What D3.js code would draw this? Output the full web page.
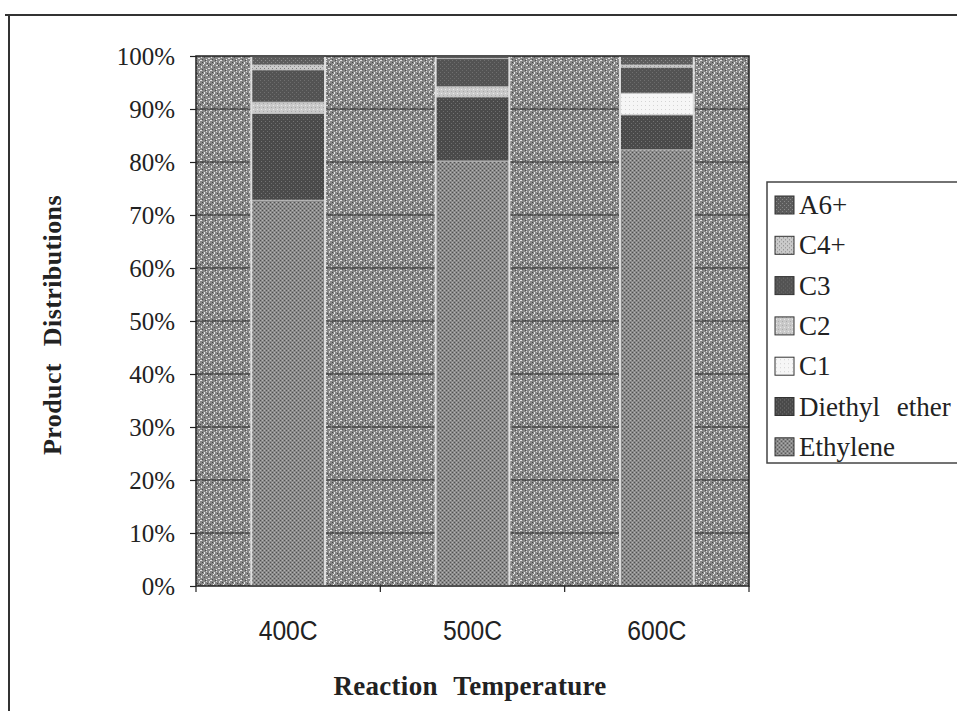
<!DOCTYPE html>
<html>
<head>
<meta charset="utf-8">
<script src="https://cdn.jsdelivr.net/npm/d3@7/dist/d3.min.js"></script>
<style>
  html, body { margin: 0; padding: 0; background: #ffffff; }
  svg { display: block; }
</style>
</head>
<body>
<svg id="chart" width="957" height="711"></svg>
<script>
// Product distribution (%) by reaction temperature, stacked bottom to top
const categories   = ["400C", "500C", "600C"];
const seriesNames  = ["Ethylene", "Diethyl ether", "C1", "C2", "C3", "C4+", "A6+"];
const ethylene     = [72.8, 80.2, 82.3];
const diethylEther = [16.4, 12.1, 6.6];
const c1           = [0.0, 0.0, 4.1];
const c2           = [2.1, 1.9, 0.0];
const c3           = [6.1, 5.3, 4.9];
const c4plus       = [0.9, 0.0, 0.4];
const a6plus       = [1.7, 0.5, 1.7];
const yTickValues  = [0, 0.1, 0.2, 0.3, 0.4, 0.5, 0.6, 0.7, 0.8, 0.9, 1.0];
const yTitle = "Product Distributions";
const xTitle = "Reaction Temperature";

const seriesValues = [ethylene, diethylEther, c1, c2, c3, c4plus, a6plus];
const table = categories.map((cat, i) => {
  const row = { category: cat };
  seriesNames.forEach((s, k) => { row[s] = seriesValues[k][i]; });
  return row;
});

const svg = d3.select("#chart");
const plot = { left: 196, right: 749, top: 56, bottom: 586 };

// Fill textures for the plot area and each series
const defs = svg.append("defs");
function tile(id, size, base, dots) {
  const p = defs.append("pattern").attr("id", id)
    .attr("patternUnits", "userSpaceOnUse").attr("width", size).attr("height", size);
  p.append("rect").attr("width", size).attr("height", size).attr("fill", base);
  dots.forEach(d => p.append("rect").attr("x", d[0]).attr("y", d[1])
    .attr("width", d[2]).attr("height", d[3]).attr("fill", d[4]));
}
tile("bgTex", 10, "#868686", [
  [0,0,2,1,"#e4e4e4"],[4,2,1,2,"#e8e8e8"],[6,5,2,1,"#dcdcdc"],[1,6,1,2,"#e0e0e0"],[3,4,1,1,"#f0f0f0"],
  [8,8,2,1,"#e2e2e2"],[9,1,1,2,"#d6d6d6"],[6,9,1,1,"#eeeeee"],
  [6,1,1,1,"#d8d8d8"],[2,2,1,1,"#444"],[5,0,1,1,"#4e4e4e"],[7,3,1,1,"#4a4a4a"],[0,4,1,1,"#464646"],
  [4,7,1,1,"#4e4e4e"],[8,5,1,1,"#444"],[2,9,1,1,"#4a4a4a"]
]);
tile("ethTex", 4, "#8a8a8a", [[0,0,1,1,"#505050"],[2,2,1,1,"#505050"],[2,0,1,1,"#b4b4b4"],[0,2,1,1,"#b4b4b4"]]);
tile("deeTex", 4, "#4a4a4a", [[1,1,1,1,"#747474"],[3,3,1,1,"#6c6c6c"]]);
tile("c1Tex", 4, "#f6f6f6", [[1,1,1,1,"#d4d4d4"]]);
tile("c2Tex", 4, "#c9c9c9", [[1,1,1,1,"#ececec"],[3,3,1,1,"#a8a8a8"]]);
tile("c3Tex", 4, "#535353", [[0,0,1,1,"#707070"],[2,2,1,1,"#6a6a6a"]]);
tile("c4Tex", 4, "#cacaca", [[0,0,1,1,"#808080"],[2,2,1,1,"#8a8a8a"]]);
tile("a6Tex", 4, "#5c5c5c", [[1,0,1,1,"#8a8a8a"],[3,2,1,1,"#858585"]]);
const fills = {
  "Ethylene": "url(#ethTex)", "Diethyl ether": "url(#deeTex)", "C1": "url(#c1Tex)",
  "C2": "url(#c2Tex)", "C3": "url(#c3Tex)", "C4+": "url(#c4Tex)", "A6+": "url(#a6Tex)"
};

// Scales
const x = d3.scaleBand().domain(categories).range([plot.left, plot.right])
  .paddingInner(0.6).paddingOuter(0.3);
const y = d3.scaleLinear().domain([0, 1]).range([plot.bottom, plot.top]);

// Outer frame
svg.append("path").attr("d", "M5,15H957M9,15V711")
  .attr("fill", "none").attr("stroke", "#333").attr("stroke-width", 2);

// Plot area background
svg.append("rect").attr("x", plot.left).attr("y", plot.top)
  .attr("width", plot.right - plot.left).attr("height", plot.bottom - plot.top)
  .attr("fill", "url(#bgTex)");

// Major gridlines
svg.append("g").selectAll("line").data(yTickValues.slice(1, -1)).join("line")
  .attr("x1", plot.left).attr("x2", plot.right)
  .attr("y1", d => y(d)).attr("y2", d => y(d))
  .attr("stroke", "#2a2a2a").attr("stroke-width", 1.2);

// Stacked 100% columns
const stacked = d3.stack().keys(seriesNames).offset(d3.stackOffsetExpand)(table);
const layers = svg.append("g").selectAll("g").data(stacked).join("g")
  .attr("fill", d => fills[d.key]);
layers.selectAll("rect").data(d => d.filter(p => p[1] - p[0] > 0)).join("rect")
  .attr("x", d => x(d.data.category))
  .attr("width", x.bandwidth())
  .attr("y", d => y(d[1]))
  .attr("height", d => y(d[0]) - y(d[1]))
  .attr("stroke", "#c4c4c4").attr("stroke-width", 0.8);

// Column outlines
svg.append("g").selectAll("rect").data(categories).join("rect")
  .attr("x", d => x(d)).attr("width", x.bandwidth())
  .attr("y", y(1)).attr("height", y(0) - y(1))
  .attr("fill", "none").attr("stroke", "#dedede").attr("stroke-width", 2);

// Plot border
svg.append("rect").attr("x", plot.left).attr("y", plot.top)
  .attr("width", plot.right - plot.left).attr("height", plot.bottom - plot.top)
  .attr("fill", "none").attr("stroke", "#222").attr("stroke-width", 1.5);

// Y axis
const yAxis = svg.append("g").attr("transform", `translate(${plot.left},0)`)
  .call(d3.axisLeft(y).tickValues(yTickValues).tickFormat(d3.format(".0%"))
    .tickSize(6).tickPadding(15));
yAxis.select(".domain").remove();
yAxis.selectAll(".tick line").attr("stroke", "#222").attr("stroke-width", 1.2);
yAxis.selectAll(".tick text")
  .attr("font-family", "'Liberation Serif', 'Times New Roman', serif")
  .attr("font-size", 25).attr("fill", "#222");

// X axis: tick marks at category boundaries, labels centred under columns
const boundaries = d3.range(categories.length + 1).map(i => plot.left + i * x.step());
svg.append("g").selectAll("line").data(boundaries).join("line")
  .attr("x1", d => d).attr("x2", d => d)
  .attr("y1", plot.bottom).attr("y2", plot.bottom + 6)
  .attr("stroke", "#222").attr("stroke-width", 1.2);
const xAxis = svg.append("g").attr("transform", `translate(0,${plot.bottom})`)
  .call(d3.axisBottom(x).tickSize(0).tickPadding(35));
xAxis.select(".domain").remove();
xAxis.selectAll(".tick text")
  .attr("font-family", "'Liberation Sans Narrow', 'Arial Narrow', 'Liberation Sans', sans-serif")
  .attr("font-size", 27).attr("fill", "#222")
  .attr("textLength", 59).attr("lengthAdjust", "spacingAndGlyphs");

// Axis titles
svg.append("text")
  .attr("transform", `translate(61,${(plot.top + plot.bottom) / 2 + 4}) rotate(-90)`)
  .attr("text-anchor", "middle")
  .attr("font-family", "'Liberation Serif', 'Times New Roman', serif")
  .attr("font-weight", "bold").attr("font-size", 26)
  .attr("letter-spacing", 0.4).attr("word-spacing", 10)
  .attr("fill", "#222").text(yTitle);
svg.append("text")
  .attr("x", 470).attr("y", 695).attr("text-anchor", "middle")
  .attr("font-family", "'Liberation Serif', 'Times New Roman', serif")
  .attr("font-weight", "bold").attr("font-size", 27)
  .attr("letter-spacing", 0.3).attr("word-spacing", 9)
  .attr("fill", "#222").text(xTitle);

// Legend (top series listed first)
const legend = svg.append("g");
legend.append("rect").attr("x", 767).attr("y", 182).attr("width", 210).attr("height", 281)
  .attr("fill", "#ffffff").attr("stroke", "#444").attr("stroke-width", 1.5);
const legendItems = seriesNames.slice().reverse();
const item = legend.selectAll("g.item").data(legendItems).join("g")
  .attr("class", "item")
  .attr("transform", (d, i) => `translate(775,${205 + i * 40.3})`);
item.append("rect").attr("x", 0).attr("y", -9).attr("width", 19).attr("height", 18)
  .attr("fill", d => fills[d]).attr("stroke", "#333").attr("stroke-width", 1);
item.append("text").attr("x", 24).attr("y", 9)
  .attr("font-family", "'Liberation Serif', 'Times New Roman', serif")
  .attr("font-size", 27).attr("word-spacing", 10)
  .attr("fill", "#222").text(d => d);
</script>
</body>
</html>
